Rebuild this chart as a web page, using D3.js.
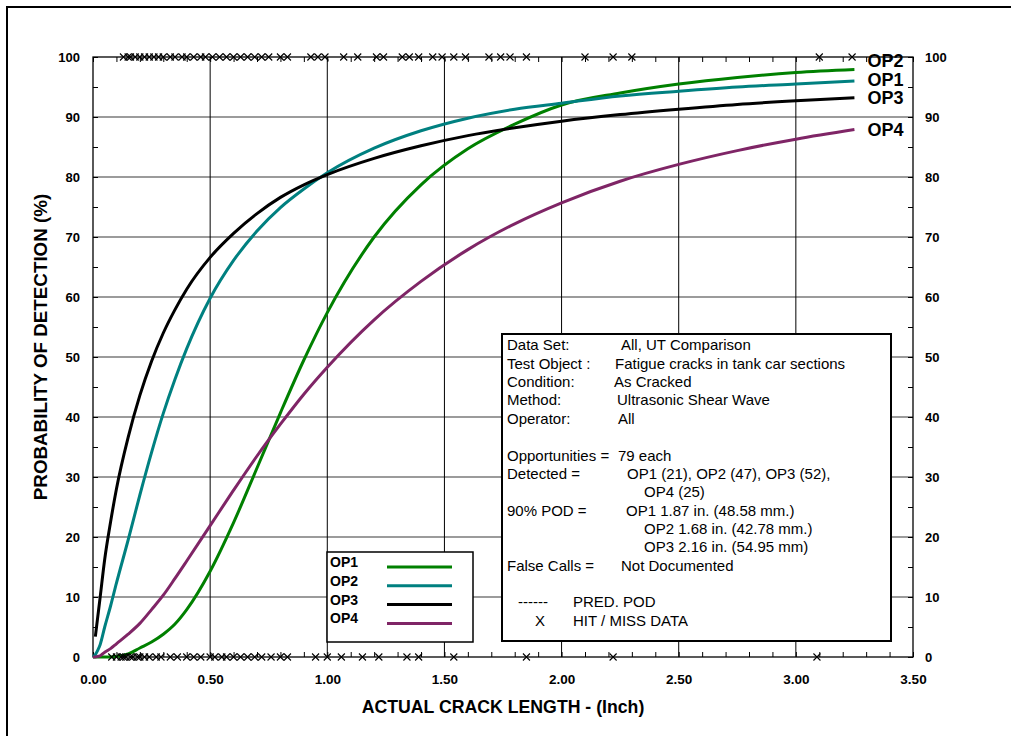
<!DOCTYPE html>
<html><head><meta charset="utf-8">
<script src="https://cdn.jsdelivr.net/npm/d3@7"></script>
<style>
body{margin:0;background:#fff;}
svg{display:block;}
text{font-family:"Liberation Sans",Arial,Helvetica,sans-serif;fill:#000;}
</style>
</head><body>
<svg id="chart" width="1011" height="736"></svg>
<script>
// ---------------- data ----------------
const xTickValues = [0, 0.5, 1.0, 1.5, 2.0, 2.5, 3.0, 3.5];
const xTickLabels = ["0.00", "0.50", "1.00", "1.50", "2.00", "2.50", "3.00", "3.50"];
const yTickValues = [0, 10, 20, 30, 40, 50, 60, 70, 80, 90, 100];
const yTickLabels = ["0", "10", "20", "30", "40", "50", "60", "70", "80", "90", "100"];

const seriesNames = ["OP1", "OP2", "OP3", "OP4"];
const seriesColors = ["#008000", "#008080", "#000000", "#7f2566"];
// labels printed at the curve ends (as in the original figure)
const endLabels = ["OP2", "OP1", "OP3", "OP4"];

// crack length (inch) at which the POD curves were read
const crackLength = [0, 0.01, 0.02, 0.03, 0.05, 0.075, 0.1, 0.15, 0.2, 0.25, 0.3, 0.35, 0.4, 0.5, 0.6, 0.7,
  0.8, 0.9, 1.0, 1.2, 1.4, 1.6, 1.8, 2.0, 2.25, 2.5, 2.75, 3.0, 3.25];
// POD (%) per operator
const op1Pod = [0, 0, 0, 0, 0, 0, 0.1, 0.5, 1.5, 2.5, 3.8, 5.5, 7.9, 14.3, 22.4, 31.5,
  40.7, 49.5, 57.4, 70.0, 78.7, 84.7, 88.8, 92.0, 94.0, 95.5, 96.6, 97.4, 97.9];
const op2Pod = [0, 0.4, 1.1, 2.0, 5.0, 8.5, 12.3, 19.5, 27.0, 34.1, 40.6, 46.3, 51.4, 59.8, 66.1, 71.0,
  74.9, 78.0, 80.7, 84.8, 87.7, 89.8, 91.3, 92.3, 93.5, 94.3, 95.0, 95.5, 96.0];
const op3Pod = [null, 3.4, 6.6, 9.8, 16.3, 22.5, 28.0, 36.6, 43.6, 49.3, 54.0, 57.9, 61.3, 66.6, 70.6, 73.9,
  76.6, 78.7, 80.4, 83.1, 85.2, 86.9, 88.2, 89.3, 90.4, 91.3, 92.1, 92.7, 93.2];
const op4Pod = [0, 0, 0.1, 0.2, 0.8, 1.4, 2.2, 3.8, 5.6, 7.9, 10.3, 13.1, 16.0, 21.9, 27.8, 33.5,
  38.8, 43.8, 48.3, 56.2, 62.6, 67.9, 72.2, 75.7, 79.3, 82.1, 84.4, 86.3, 87.9];

// hit (POD = 100) and miss (POD = 0) crack lengths, inches
const hitLengths = [0.13, 0.15, 0.16, 0.18, 0.20, 0.22, 0.24, 0.26, 0.28, 0.30, 0.33, 0.35, 0.38, 0.40, 0.43, 0.46,
  0.48, 0.51, 0.54, 0.57, 0.60, 0.63, 0.66, 0.69, 0.72, 0.75, 0.80, 0.83, 0.93, 0.96, 0.99, 1.07, 1.13, 1.21, 1.24,
  1.32, 1.35, 1.39, 1.45, 1.49, 1.54, 1.59, 1.69, 1.74, 1.78, 1.85, 2.10, 2.22, 2.30, 3.10, 3.24];
const missLengths = [0.08, 0.10, 0.12, 0.13, 0.14, 0.16, 0.17, 0.19, 0.20, 0.22, 0.24, 0.27, 0.29, 0.33, 0.36, 0.40,
  0.43, 0.46, 0.50, 0.52, 0.55, 0.57, 0.60, 0.63, 0.66, 0.69, 0.72, 0.76, 0.80, 0.83, 0.95, 1.00, 1.06, 1.15, 1.22,
  1.34, 1.39, 1.54, 1.85, 2.22, 3.09];

const infoLabels = ["Data Set:", "Test Object :", "Condition:", "Method:", "Operator:", "",
  "Opportunities =", "Detected =", "", "90% POD =", "", "", "False Calls =", "", "------", "X"];
const infoValues = ["All, UT Comparison", "Fatigue cracks in tank car sections", "As Cracked",
  "Ultrasonic Shear Wave", "All", "", "79 each", "OP1 (21), OP2 (47), OP3 (52),", "OP4 (25)",
  "OP1 1.87 in. (48.58 mm.)", "OP2 1.68 in. (42.78 mm.)", "OP3 2.16 in. (54.95 mm)", "Not Documented", "",
  "PRED. POD", "HIT / MISS DATA"];

const xTitle = "ACTUAL CRACK LENGTH - (Inch)";
const yTitle = "PROBABILITY OF DETECTION (%)";

// ---------------- layout ----------------
const svg = d3.select("#chart");
const L = 93, R = 913, T = 57, B = 657;
const x = d3.scaleLinear().domain([0, 3.5]).range([L, R]);
const y = d3.scaleLinear().domain([0, 100]).range([B, T]);

// outer frame
svg.append("rect").attr("x", 7).attr("y", 7).attr("width", 1030).attr("height", 760)
  .attr("fill", "none").attr("stroke", "#000").attr("stroke-width", 2);

// gridlines
const g = svg.append("g");
g.selectAll(".hg").data(yTickValues.filter(v => v > 0 && v < 100)).join("line")
  .attr("x1", L).attr("x2", R).attr("y1", d => y(d)).attr("y2", d => y(d))
  .attr("stroke", "#7a7a7a").attr("stroke-width", 1.6);
g.selectAll(".vg").data(xTickValues.filter(v => v > 0 && v < 3.5)).join("line")
  .attr("y1", T).attr("y2", B).attr("x1", d => x(d)).attr("x2", d => x(d))
  .attr("stroke", "#000").attr("stroke-width", 1);

// minor ticks (inside)
const minorX = d3.range(0, 36).map(i => i / 10);
const minorY = d3.range(0, 21).map(i => i * 5);
function styleAxis(sel) {
  sel.select(".domain").remove();
  sel.selectAll(".tick line").attr("stroke", "#000").attr("stroke-width", 1);
}
svg.append("g").attr("transform", `translate(0,${B})`)
  .call(d3.axisBottom(x).tickValues(minorX).tickSize(-5).tickFormat("")).call(styleAxis);
svg.append("g").attr("transform", `translate(0,${T})`)
  .call(d3.axisTop(x).tickValues(minorX).tickSize(-5).tickFormat("")).call(styleAxis);
svg.append("g").attr("transform", `translate(${L},0)`)
  .call(d3.axisLeft(y).tickValues(minorY).tickSize(-5).tickFormat("")).call(styleAxis);
svg.append("g").attr("transform", `translate(${R},0)`)
  .call(d3.axisRight(y).tickValues(minorY).tickSize(-5).tickFormat("")).call(styleAxis);

// tick labels
function styleLabels(sel, size) {
  sel.select(".domain").remove();
  sel.selectAll(".tick line").remove();
  sel.selectAll(".tick text").attr("font-family", "Liberation Sans, Arial, sans-serif")
    .attr("font-size", size).attr("font-weight", "bold").attr("fill", "#000");
}
svg.append("g").attr("transform", `translate(0,${B})`)
  .call(d3.axisBottom(x).tickValues(xTickValues).tickFormat((d, i) => xTickLabels[i]).tickSize(0).tickPadding(17))
  .call(s => styleLabels(s, 13.5));
svg.append("g").attr("transform", `translate(${L},0)`)
  .call(d3.axisLeft(y).tickValues(yTickValues).tickFormat((d, i) => yTickLabels[i]).tickSize(0).tickPadding(13))
  .call(s => styleLabels(s, 13));
svg.append("g").attr("transform", `translate(${R},0)`)
  .call(d3.axisRight(y).tickValues(yTickValues).tickFormat((d, i) => yTickLabels[i]).tickSize(0).tickPadding(12))
  .call(s => styleLabels(s, 13));

// plot border
svg.append("rect").attr("x", L).attr("y", T).attr("width", R - L).attr("height", B - T)
  .attr("fill", "none").attr("stroke", "#000").attr("stroke-width", 1.3);

// curves
const seriesPod = [op1Pod, op2Pod, op3Pod, op4Pod];
const line = d3.line().defined(d => d[1] !== null)
  .x(d => x(d[0])).y(d => y(d[1])).curve(d3.curveMonotoneX);
seriesPod.forEach((pod, i) => {
  const pts = crackLength.map((v, j) => [v, pod[j]]);
  svg.append("path").attr("d", line(pts)).attr("fill", "none")
    .attr("stroke", seriesColors[i]).attr("stroke-width", 3).attr("stroke-linejoin", "round");
});

// hit / miss markers
const xMark = "M-3.5,-3.5L3.5,3.5M-3.5,3.5L3.5,-3.5";
svg.append("g").selectAll("path").data(hitLengths).join("path")
  .attr("d", xMark).attr("transform", d => `translate(${x(d)},${y(100)})`)
  .attr("stroke", "#000").attr("stroke-width", 1.1).attr("fill", "none");
svg.append("g").selectAll("path").data(missLengths).join("path")
  .attr("d", xMark).attr("transform", d => `translate(${x(d)},${y(0)})`)
  .attr("stroke", "#000").attr("stroke-width", 1.1).attr("fill", "none");

// end labels with simple dodge
const lastX = crackLength[crackLength.length - 1];
const ends = seriesPod.map((pod, i) => ({label: endLabels[i], y: y(pod[pod.length - 1]), x: x(lastX)}));
const sorted = ends.slice().sort((a, b) => b.y - a.y);
for (let k = 1; k < sorted.length; k++) {
  sorted[k].y = Math.min(sorted[k].y, sorted[k - 1].y - 18.5);
}
svg.append("g").selectAll("text").data(ends).join("text")
  .attr("x", d => d.x + 13).attr("y", d => d.y).attr("dy", "0.36em")
  .attr("font-size", 18).attr("font-weight", "bold").text(d => d.label);

// legend box
const lg = svg.append("g").attr("transform", "translate(327,552)");
lg.append("rect").attr("width", 146).attr("height", 90).attr("fill", "#fff")
  .attr("stroke", "#000").attr("stroke-width", 1.5);
seriesNames.forEach((n, i) => {
  lg.append("text").attr("x", 3).attr("y", 10 + i * 18.8).attr("dy", "0.36em")
    .attr("font-size", 14).attr("font-weight", "bold").text(n);
  lg.append("line").attr("x1", 60).attr("x2", 125).attr("y1", 15 + i * 18.8).attr("y2", 15 + i * 18.8)
    .attr("stroke", seriesColors[i]).attr("stroke-width", 3);
});

// info box
const ib = svg.append("g").attr("transform", "translate(502,334)");
ib.append("rect").attr("width", 389).attr("height", 307).attr("fill", "#fff")
  .attr("stroke", "#000").attr("stroke-width", 2);
const labelOffsets = [5, 5, 5, 5, 5, 5, 5, 5, 5, 5, 5, 5, 5, 5, 16, 33];
const valueOffsets = [119, 113, 112, 115, 116, 0, 116, 125, 142, 124, 142, 142, 119, 0, 71, 71];
infoLabels.forEach((t, i) => {
  const cy = 11 + i * 18.35;
  if (t) ib.append("text").attr("x", labelOffsets[i]).attr("y", cy).attr("dy", "0.36em")
    .attr("font-size", 15).text(t);
  if (infoValues[i]) ib.append("text").attr("x", valueOffsets[i]).attr("y", cy).attr("dy", "0.36em")
    .attr("font-size", 15).text(infoValues[i]);
});

// axis titles
svg.append("text").attr("x", 503).attr("y", 713).attr("text-anchor", "middle")
  .attr("font-size", 17.7).attr("font-weight", "bold").text(xTitle);
svg.append("text").attr("transform", "translate(47,347) rotate(-90)").attr("text-anchor", "middle")
  .attr("font-size", 18.8).attr("font-weight", "bold").text(yTitle);
</script>
</body></html>
